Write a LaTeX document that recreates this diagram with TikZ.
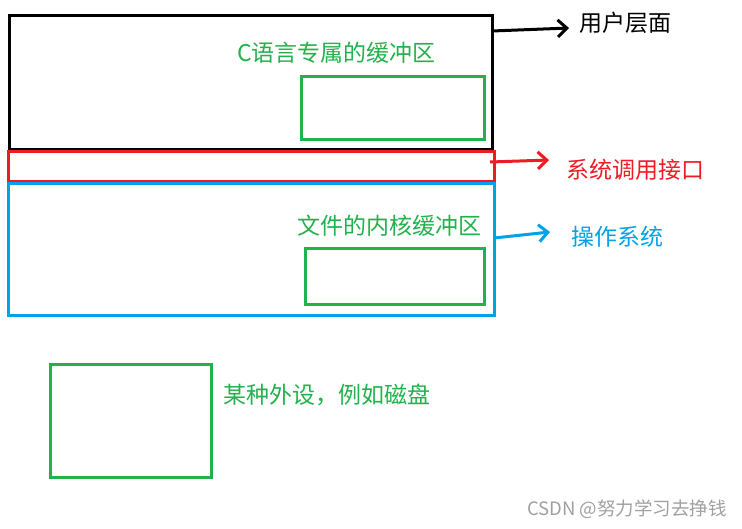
\documentclass[tikz,border=0pt]{standalone}
\usepackage{fontspec}
\newfontfamily\cjk{Noto Sans CJK SC}
\usetikzlibrary{arrows.meta}
\definecolor{mygreen}{HTML}{22B14C}
\definecolor{myred}{HTML}{ED1C24}
\definecolor{myblue}{HTML}{00A2E8}
\definecolor{mygray}{HTML}{A0A0A0}
\tikzset{
  box/.style={draw, line width=3pt, inner sep=0pt},
  lbl/.style={font=\cjk\fontsize{23}{26}\selectfont, inner sep=0pt, anchor=west},
  conn/.style={line width=3pt, -{Straight Barb[length=9pt,width=17pt,line width=3pt]}},
}
\begin{document}
\begin{tikzpicture}[x=1pt,y=-1pt]
\useasboundingbox (0,0) rectangle (742,528);
% boxes
\draw[box, black] (9,15) rectangle (492,149);
\draw[box, myred] (8,151) rectangle (494,181);
\draw[box, myblue] (8,183) rectangle (494,315);
\draw[box, mygreen] (301,76) rectangle (484,139);
\draw[box, mygreen] (305,248) rectangle (484,304);
\draw[box, mygreen] (50,364) rectangle (211,477);
% labels
\node[lbl, text=mygreen] (cbuf) at (237,53) {C语言专属的缓冲区};
\node[lbl, text=mygreen] (kbuf) at (297,226) {文件的内核缓冲区};
\node[lbl, text=mygreen] (dev) at (223,395) {某种外设，例如磁盘};
\node[lbl, text=black] (user) at (579,23) {用户层面};
\node[lbl, text=myred] (sys) at (566,170) {系统调用接口};
\node[lbl, text=myblue] (os) at (571,237) {操作系统};
\node[font=\fontsize{18.5}{20}\selectfont\cjk, text=mygray, inner sep=0pt, anchor=east] (wm) at (727,509) {CSDN @努力学习去挣钱};
% connectors
\coordinate (a1) at (492,31);
\coordinate (a2) at (569,28);
\coordinate (b1) at (490,162);
\coordinate (b2) at (549,160);
\coordinate (c1) at (494,238);
\coordinate (c2) at (550,232);
\draw[conn, black] (a1) -- (a2);
\draw[conn, myred] (b1) -- (b2);
\draw[conn, myblue] (c1) -- (c2);
\end{tikzpicture}
\end{document}
